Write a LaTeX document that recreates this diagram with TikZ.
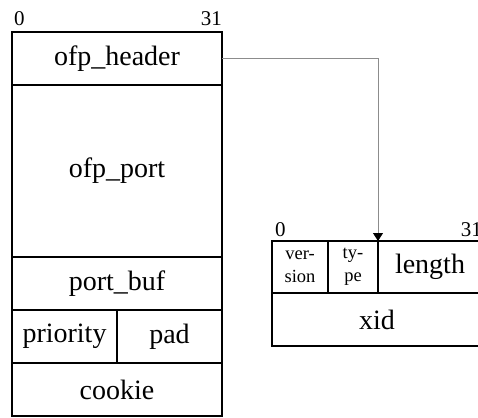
\documentclass[tikz,border=0pt]{standalone}
\usepackage{fontspec}
\setmainfont{Liberation Serif}
\usetikzlibrary{arrows.meta}
\begin{document}
\begin{tikzpicture}[x=1pt,y=-1pt,
  field/.style={draw=black, line width=1.6pt, inner sep=0pt, outer sep=0pt,
    font=\fontsize{28}{32}\selectfont},
  smallfield/.style={field, align=center, font=\fontsize{18.5}{23}\selectfont},
  bitlbl/.style={inner sep=0pt, font=\fontsize{21}{24}\selectfont},
  link/.style={draw=black!45, line width=1pt, -{Triangle[width=10pt,length=8pt,color=black]}}
]
\useasboundingbox (0,0) rectangle (478,417);
% left structure
\node[field, minimum width=210pt, minimum height=53pt] (hdr) at (117,58.5) {ofp\_header};
\node[field, minimum width=210pt, minimum height=172pt] (port) at (117,171) {ofp\_port};
\node[field, minimum width=210pt, minimum height=53pt] (buf) at (117,283.5) {port\_buf};
\node[field, minimum width=105pt, minimum height=53pt] (prio) at (64.5,336.5) {priority};
\node[field, minimum width=105pt, minimum height=53pt] (pad) at (169.5,336.5) {pad};
\node[field, minimum width=210pt, minimum height=53pt] (cookie) at (117,389.5) {cookie};
\node[bitlbl, anchor=base west] (l0) at (14,26) {0};
\node[bitlbl, anchor=base east] (l31) at (222,26) {31};
% right structure
\node[smallfield, minimum width=56pt, minimum height=52pt] (ver) at (300,267) {ver-\\sion};
\node[smallfield, minimum width=50pt, minimum height=52pt] (typ) at (353,267) {ty-\\pe};
\node[field, minimum width=104pt, minimum height=52pt] (len) at (430,267) {length};
\node[field, minimum width=210pt, minimum height=53pt] (xid) at (377,319.5) {xid};
\node[bitlbl, anchor=base west] (r0) at (275,236) {0};
\node[bitlbl, anchor=base east] (r31) at (482,236) {31};
% connector
\draw[link] (hdr.east) -| (len.north west);
\end{tikzpicture}
\end{document}
